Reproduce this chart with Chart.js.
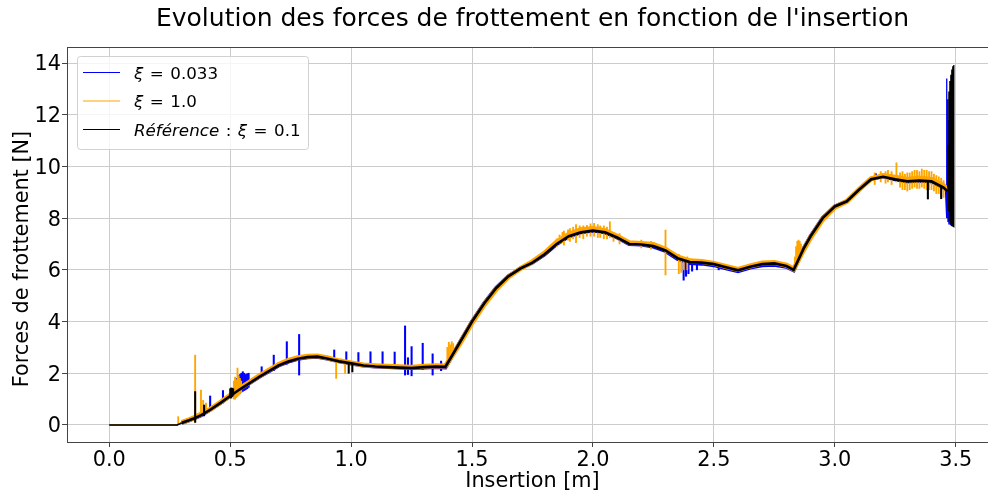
<!DOCTYPE html>
<html lang="fr">
<head>
<meta charset="utf-8">
<title>Forces de frottement</title>
<script src="https://cdn.jsdelivr.net/npm/chart.js@4.4.0/dist/chart.umd.min.js"></script>
<style>
  html, body { margin: 0; padding: 0; background: #fff; overflow: hidden; }
  #graphe { display: block; }
</style>
</head>
<body>
<canvas id="graphe" width="1000" height="495"></canvas>
<script>
// Abscisses communes (insertion en m)
const insertion = [0, 0.28, 0.30, 0.33, 0.355, 0.38, 0.42, 0.46, 0.50, 0.54, 0.58, 0.62, 0.66, 0.70, 0.74, 0.78,
  0.82, 0.86, 0.90, 0.95, 1.00, 1.05, 1.10, 1.15, 1.20, 1.25, 1.30, 1.35, 1.39, 1.45, 1.50, 1.55, 1.60, 1.65,
  1.70, 1.75, 1.80, 1.85, 1.90, 1.95, 2.00, 2.05, 2.10, 2.15, 2.20, 2.25, 2.30, 2.35, 2.40, 2.45, 2.50, 2.55,
  2.60, 2.65, 2.70, 2.75, 2.80, 2.83, 2.87, 2.90, 2.95, 3.00, 3.05, 3.10, 3.15, 3.20, 3.25, 3.30, 3.35, 3.40, 3.45];

// Forces [N] pour chaque xi
const force033 = [0, 0, 0.08, 0.18, 0.27, 0.38, 0.6, 0.85, 1.12, 1.38, 1.62, 1.86, 2.08, 2.3, 2.45, 2.56,
  2.62, 2.64, 2.57, 2.46, 2.38, 2.3, 2.26, 2.24, 2.22, 2.2, 2.22, 2.24, 2.22, 3.2, 4.0, 4.7, 5.3, 5.75,
  6.05, 6.28, 6.6, 7.0, 7.3, 7.45, 7.52, 7.45, 7.25, 7.0, 6.98, 6.9, 6.73, 6.42, 6.26, 6.24, 6.18, 6.06,
  5.95, 6.09, 6.18, 6.2, 6.12, 5.98, 6.8, 7.3, 8.0, 8.45, 8.65, 9.1, 9.52, 9.62, 9.5, 9.42, 9.45, 9.42, 9.18];
const force10 = [0, 0, 0.1, 0.2, 0.3, 0.42, 0.62, 0.88, 1.15, 1.42, 1.66, 1.9, 2.12, 2.34, 2.5, 2.6,
  2.66, 2.67, 2.6, 2.48, 2.4, 2.32, 2.29, 2.27, 2.25, 2.23, 2.27, 2.29, 2.28, 3.15, 3.95, 4.65, 5.25, 5.72,
  6.05, 6.32, 6.65, 7.08, 7.38, 7.55, 7.6, 7.52, 7.3, 7.05, 7.02, 6.98, 6.8, 6.5, 6.35, 6.32, 6.25, 6.13,
  6.02, 6.15, 6.26, 6.28, 6.18, 6.03, 6.75, 7.25, 7.95, 8.42, 8.65, 9.1, 9.52, 9.65, 9.58, 9.5, 9.55, 9.5, 9.25];
const forceRef = [0, 0, 0.08, 0.18, 0.27, 0.38, 0.6, 0.85, 1.12, 1.38, 1.62, 1.86, 2.08, 2.3, 2.45, 2.56,
  2.62, 2.64, 2.57, 2.46, 2.38, 2.3, 2.26, 2.24, 2.22, 2.2, 2.24, 2.26, 2.25, 3.2, 4.0, 4.7, 5.3, 5.75,
  6.05, 6.28, 6.6, 7.0, 7.3, 7.45, 7.52, 7.45, 7.25, 7.0, 6.98, 6.92, 6.75, 6.45, 6.3, 6.28, 6.22, 6.1,
  5.98, 6.12, 6.22, 6.25, 6.15, 6.0, 6.8, 7.3, 8.0, 8.45, 8.65, 9.1, 9.5, 9.6, 9.5, 9.42, 9.45, 9.42, 9.18];

// Fin de course : oscillations
const finX033 = [3.458, 3.460, 3.462, 3.464, 3.466, 3.468, 3.470, 3.472, 3.475, 3.478, 3.481, 3.484, 3.487, 3.490];
const finY033 = [9.1, 8.6, 13.4, 8.0, 12.6, 7.85, 11.8, 7.75, 10.5, 7.73, 9.6, 7.75, 8.8, 7.8];
const finX10 = [3.455, 3.46];
const finY10 = [9.2, 9.05];
const finXRef = [3.465, 3.468, 3.470, 3.472, 3.474, 3.476, 3.478, 3.480, 3.482, 3.484, 3.486, 3.488, 3.490, 3.492, 3.4925];
const finYRef = [9.05, 10.8, 8.3, 12.9, 7.9, 13.3, 7.8, 13.55, 7.72, 13.75, 7.7, 13.88, 7.68, 13.92, 7.67];

// Pics (x, min, max)
const picX033 = [0.417, 0.47, 0.522, 0.528, 0.534, 0.54, 0.546, 0.552, 0.558, 0.564, 0.57, 0.576, 0.63, 0.68,
  0.734, 0.785, 0.93, 0.98, 1.03, 1.08, 1.13, 1.18, 1.223, 1.235, 1.25, 1.296, 1.337, 1.372,
  2.375, 2.385, 2.395, 2.41, 2.43, 2.52, 3.17];
const picMin033 = [0.55, 0.85, 1.12, 1.15, 1.2, 1.22, 1.27, 1.3, 1.33, 1.36, 1.4, 1.45, 1.9, 2.1,
  2.35, 1.93, 2.45, 2.35, 2.3, 2.25, 2.2, 2.2, 1.93, 1.95, 1.9, 2.15, 1.93, 2.1,
  5.6, 5.75, 5.85, 5.95, 6.0, 6.0, 9.5];
const picMax033 = [1.12, 1.33, 1.7, 1.8, 1.9, 1.95, 2.0, 2.06, 2.0, 1.95, 1.98, 2.0, 2.25, 2.7,
  3.22, 3.5, 2.9, 2.83, 2.8, 2.83, 2.83, 2.82, 3.83, 2.6, 3.03, 3.16, 2.75, 2.47,
  6.3, 6.25, 6.3, 6.3, 6.3, 6.2, 9.72];

const picX10 = [0.285, 0.355, 0.379, 0.388, 0.40, 0.515, 0.52, 0.525, 0.53, 0.535, 0.54, 0.545, 0.938, 0.975,
  1.398, 1.404, 1.41, 1.416, 1.422,
  1.85, 1.862, 1.874, 1.88, 1.897, 1.905, 1.918, 1.93, 1.945, 1.96, 1.975, 1.99, 2.005, 2.02, 2.03, 2.045,
  2.058, 2.07, 2.085, 2.11, 2.2, 2.24, 2.30, 2.355, 2.365, 2.375, 2.39,
  2.835, 2.84, 2.845, 2.85, 2.855, 2.86,
  3.165, 3.19, 3.21, 3.22, 3.235, 3.255, 3.27, 3.28, 3.29, 3.30, 3.31, 3.32, 3.33, 3.34, 3.35, 3.36, 3.37,
  3.38, 3.39, 3.40, 3.41, 3.42, 3.43, 3.44, 3.45];
const picMin10 = [0.0, 0.1, 0.35, 0.4, 0.45, 1.0, 1.0, 1.05, 1.1, 1.15, 1.2, 1.25, 1.8, 2.0,
  2.25, 2.35, 2.45, 2.55, 2.65,
  6.9, 7.0, 7.05, 6.95, 7.15, 7.1, 7.2, 7.05, 7.25, 7.2, 7.3, 7.3, 7.3, 7.25, 7.25, 7.2,
  7.2, 7.25, 7.1, 7.0, 6.85, 6.8, 5.8, 5.85, 5.9, 6.0, 6.0,
  6.0, 6.1, 6.2, 6.4, 6.5, 6.7,
  9.3, 9.4, 9.35, 9.4, 9.3, 9.4, 9.2, 9.1, 9.1, 9.05, 9.1, 9.15, 9.2, 9.15, 9.15, 9.2, 9.15,
  9.1, 9.1, 9.1, 9.05, 8.95, 8.95, 8.85, 8.8];
const picMax10 = [0.32, 2.7, 1.35, 0.95, 0.85, 1.7, 1.85, 1.75, 2.2, 1.9, 1.8, 1.7, 2.55, 2.45,
  3.0, 3.2, 3.1, 3.22, 3.15,
  7.2, 7.35, 7.45, 7.5, 7.55, 7.6, 7.65, 7.75, 7.7, 7.7, 7.72, 7.78, 7.8, 7.75, 7.7, 7.7,
  7.65, 7.86, 7.45, 7.4, 7.15, 7.1, 7.54, 6.6, 6.5, 6.45, 6.5,
  6.5, 6.9, 7.1, 7.15, 7.1, 7.0,
  9.75, 9.8, 9.8, 9.85, 9.8, 10.14, 9.75, 9.8, 9.7, 9.75, 9.75, 9.8, 9.85, 9.85, 9.8, 9.9, 9.85,
  9.85, 9.8, 9.8, 9.7, 9.65, 9.6, 9.55, 9.45];

const picXRef = [0.355, 0.392, 0.50, 0.504, 0.508, 0.512, 0.99, 1.005, 3.385, 3.44];
const picMinRef = [0.1, 0.35, 1.05, 1.04, 1.1, 1.15, 2.0, 2.05, 8.74, 8.75];
const picMaxRef = [1.29, 0.77, 1.4, 1.43, 1.42, 1.4, 2.38, 2.35, 9.45, 9.25];

const xTicks = [0, 0.5, 1.0, 1.5, 2.0, 2.5, 3.0, 3.5];
const yTicks = [0, 2, 4, 6, 8, 10, 12, 14];

const BLEU = '#0000ff', ORANGE = '#ffa500', NOIR = '#000000';
const POLICE = '"DejaVu Sans", sans-serif';

const enPoints = (xs, ys) => xs.map((x, i) => ({ x: x, y: ys[i] }));
const enPics = (xs, lo, hi) => xs.map((x, i) => ({ x: x, y: [lo[i], hi[i]] }));

// largeur du trait : fine sur le plateau initial et dans les oscillations finales
function largeur(normal, debut, fin) {
  return ctx => {
    const x = ctx.p0.parsed.x;
    if (x < debut) return 1.5;
    if (x >= fin) return 1.3;
    return normal;
  };
}

// Cadre du haut, titre, label Y et légende
const decor = {
  id: 'decor',
  afterDraw(chart) {
    const ctx = chart.ctx;
    const a = chart.chartArea;
    ctx.save();
    ctx.strokeStyle = '#444';
    ctx.lineWidth = 1;
    ctx.beginPath();
    ctx.moveTo(a.left, a.top + 0.5);
    ctx.lineTo(a.right, a.top + 0.5);
    ctx.stroke();

    ctx.fillStyle = '#000';
    ctx.font = '25px ' + POLICE;
    ctx.textAlign = 'center';
    ctx.textBaseline = 'alphabetic';
    ctx.fillText("Evolution des forces de frottement en fonction de l'insertion", (a.left + a.right) / 2, 26);

    ctx.save();
    ctx.translate(28, 259);
    ctx.rotate(-Math.PI / 2);
    ctx.font = '20.8px ' + POLICE;
    ctx.fillText('Forces de frottement [N]', 0, 0);
    ctx.restore();

    // légende
    ctx.fillStyle = 'rgba(255,255,255,0.8)';
    ctx.strokeStyle = 'rgba(204,204,204,0.9)';
    ctx.beginPath();
    ctx.roundRect(77.5, 56.5, 231, 93, 3);
    ctx.fill();
    ctx.stroke();

    const lignes = [
      { couleur: BLEU, y: 72.5, texte: [['ξ', 'italic'], ['=', 'rel'], ['0.033', '']] },
      { couleur: ORANGE, y: 101, texte: [['ξ', 'italic'], ['=', 'rel'], ['1.0', '']] },
      { couleur: NOIR, y: 129.5, texte: [['Référence', 'italic'], [':', 'rel'], ['ξ', 'italic'], ['=', 'rel'], ['0.1', '']] }
    ];
    ctx.textAlign = 'left';
    lignes.forEach(l => {
      ctx.strokeStyle = l.couleur;
      ctx.lineWidth = 1.2;
      ctx.beginPath();
      ctx.moveTo(83, l.y);
      ctx.lineTo(120, l.y);
      ctx.stroke();
      let x = 134;
      ctx.fillStyle = '#000';
      l.texte.forEach(([t, style]) => {
        ctx.font = (style === 'italic' ? 'italic ' : '') + '16.7px ' + POLICE;
        if (style === 'rel') x += 6.5;
        ctx.fillText(t, x, l.y + 6);
        x += ctx.measureText(t).width;
        if (style === 'rel') x += 6.5;
      });
    });
    ctx.restore();
  }
};

new Chart(document.getElementById('graphe'), {
  type: 'line',
  data: {
    datasets: [
      {
        label: 'ξ = 0.033', data: enPoints(insertion.concat(finX033), force033.concat(finY033)),
        borderColor: BLEU, borderWidth: 4, order: 6,
        segment: { borderWidth: largeur(4, 0.29, 3.457) }
      },
      {
        type: 'bar', data: enPics(picX033, picMin033, picMax033),
        backgroundColor: BLEU, barThickness: 1.4, grouped: false, order: 5
      },
      {
        label: 'ξ = 1.0', data: enPoints(insertion.concat(finX10), force10.concat(finY10)),
        borderColor: ORANGE, borderWidth: 5, order: 4,
        segment: { borderWidth: largeur(5, 0.29, 9) }
      },
      {
        type: 'bar', data: enPics(picX10, picMin10, picMax10),
        backgroundColor: ORANGE, barThickness: 1.2, grouped: false, order: 3
      },
      {
        label: 'Référence : ξ = 0.1', data: enPoints(insertion.concat(finXRef), forceRef.concat(finYRef)),
        borderColor: NOIR, borderWidth: 2.7, order: 2,
        segment: { borderWidth: largeur(2.7, 0.29, 3.465) }
      },
      {
        type: 'bar', data: enPics(picXRef, picMinRef, picMaxRef),
        backgroundColor: NOIR, barThickness: 1.4, grouped: false, order: 1
      }
    ]
  },
  options: {
    responsive: false,
    animation: false,
    devicePixelRatio: 1,
    layout: { padding: { top: 47, left: 0, right: 2, bottom: 0 } },
    elements: { point: { radius: 0 }, line: { tension: 0, fill: false } },
    plugins: { legend: { display: false }, tooltip: { enabled: false }, title: { display: false } },
    scales: {
      x: {
        type: 'linear', min: -0.175, max: 3.675, offset: false,
        afterBuildTicks: s => { s.ticks = xTicks.map(v => ({ value: v })); },
        afterFit: s => { s.height = 53; },
        ticks: { font: { family: POLICE, size: 20.8 }, color: '#000', padding: 1, maxRotation: 0,
          callback: v => v.toFixed(1) },
        grid: { color: '#cccccc', lineWidth: 1, tickColor: '#444', tickLength: 5, offset: false },
        border: { color: '#444', width: 1 },
        title: { display: true, text: 'Insertion [m]', font: { family: POLICE, size: 20.8 }, color: '#000',
          padding: { top: 0, bottom: 1 } }
      },
      y: {
        type: 'linear', min: -0.66, max: 14.62,
        afterBuildTicks: s => { s.ticks = yTicks.map(v => ({ value: v })); },
        afterFit: s => { s.width = 67; },
        ticks: { font: { family: POLICE, size: 20.8 }, color: '#000', padding: 1, labelOffset: 2,
          callback: v => String(v) },
        grid: { color: '#cccccc', lineWidth: 1, tickColor: '#444', tickLength: 5 },
        border: { color: '#444', width: 1 }
      }
    }
  },
  plugins: [decor]
});
</script>
</body>
</html>
